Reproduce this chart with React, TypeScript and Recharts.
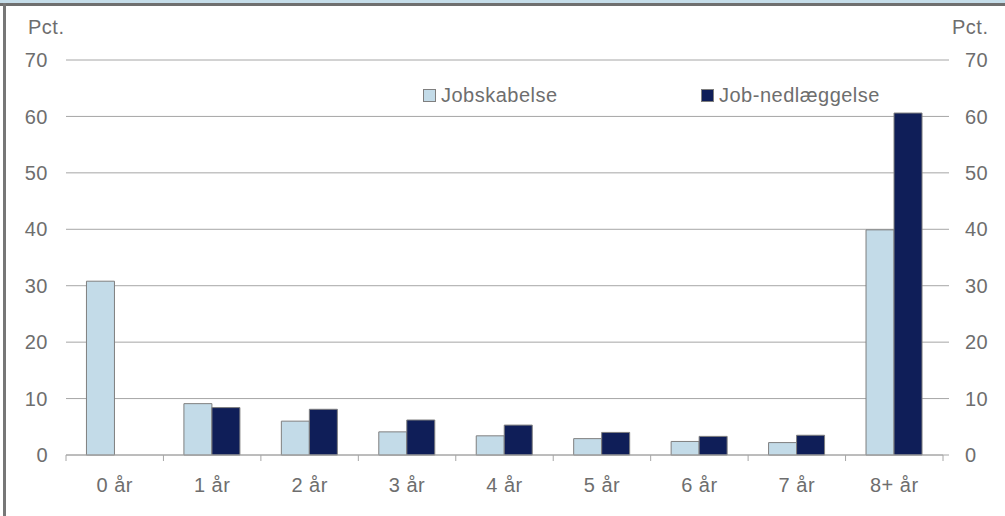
import { Bar, BarChart, CartesianGrid, XAxis, YAxis } from 'recharts'

const categories = ['0 år', '1 år', '2 år', '3 år', '4 år', '5 år', '6 år', '7 år', '8+ år']
const jobskabelse = [30.8, 9.1, 6.0, 4.1, 3.4, 2.9, 2.4, 2.2, 39.9]
const jobnedlaeggelse = [0, 8.4, 8.1, 6.2, 5.3, 4.0, 3.3, 3.5, 60.6]
const seriesNames = ['Jobskabelse', 'Job-nedlæggelse']
const yTicks = [0, 10, 20, 30, 40, 50, 60, 70]
const unit = 'Pct.'

const data = categories.map((cat, i) => ({
  cat,
  skab: jobskabelse[i],
  ned: jobnedlaeggelse[i],
}))

const W = 1005
const H = 516
const M = { top: 60, right: 0, bottom: 0, left: 0 }
const LEFT_W = 66
const RIGHT_W = 62
const PLOT_W = W - LEFT_W - RIGHT_W
const BAND = PLOT_W / categories.length

const LIGHT = '#c3dbe8'
const DARK = '#0f1e58'
const EDGE = '#7f7f7f'
const GRID = '#a6a6a6'
const TEXT = '#6e6e6e'
const FONT = '"Liberation Sans", Arial, sans-serif'
const FS = 20
const LS = 0.5

function CatTick(props: any) {
  const { x, y, payload, index } = props
  const last = index === categories.length - 1
  return (
    <g>
      <line x1={x - BAND / 2} x2={x - BAND / 2} y1={y} y2={y + 6} stroke={GRID} />
      {last && <line x1={x + BAND / 2} x2={x + BAND / 2} y1={y} y2={y + 6} stroke={GRID} />}
      <text x={x} y={y + 37} textAnchor="middle" fill={TEXT} fontSize={FS} fontFamily={FONT} letterSpacing={LS}>
        {payload.value}
      </text>
    </g>
  )
}

export default function App() {
  const tickStyle = { fill: TEXT, fontSize: FS, fontFamily: FONT, letterSpacing: LS }
  const labelStyle = { position: 'absolute' as const, top: 16, color: TEXT, fontSize: FS, fontFamily: FONT, letterSpacing: LS }
  return (
    <div style={{ position: 'absolute', left: 0, top: 0, width: W, height: H, background: '#fff' }}>
      <div style={{ position: 'absolute', left: 0, top: 0, width: W, height: 3, background: '#c5dde9' }} />
      <div style={{ position: 'absolute', left: 0, top: 3, width: W, height: 3, background: '#6f6f6f' }} />
      <div style={{ position: 'absolute', left: 3, top: 3, width: 3, height: H - 3, background: '#777' }} />

      <BarChart width={W} height={H} data={data} margin={M} barCategoryGap="21%" barGap={0}>
        <CartesianGrid vertical={false} stroke={GRID} yAxisId="l" />
        <XAxis
          dataKey="cat"
          height={61}
          axisLine={{ stroke: GRID }}
          tickLine={false}
          tickSize={0}
          tickMargin={0}
          interval={0}
          tick={<CatTick />}
        />
        <YAxis
          yAxisId="l"
          width={LEFT_W}
          domain={[0, 70]}
          ticks={yTicks}
          axisLine={false}
          tickLine={false}
          tickMargin={12}
          tick={tickStyle}
        />
        <YAxis
          yAxisId="r"
          orientation="right"
          width={RIGHT_W}
          domain={[0, 70]}
          ticks={yTicks}
          axisLine={false}
          tickLine={{ stroke: GRID }}
          tickMargin={16}
          tick={tickStyle}
        />
        <Bar yAxisId="l" dataKey="skab" name={seriesNames[0]} fill={LIGHT} stroke={EDGE} strokeWidth={1} isAnimationActive={false} />
        <Bar yAxisId="r" dataKey="ned" name={seriesNames[1]} fill={DARK} stroke={EDGE} strokeWidth={1} isAnimationActive={false} />
      </BarChart>

      <span style={{ ...labelStyle, left: 28 }}>{unit}</span>
      <span style={{ ...labelStyle, left: 952 }}>{unit}</span>

      {seriesNames.map((name, i) => (
        <div
          key={name}
          style={{ position: 'absolute', left: i === 0 ? 423 : 701, top: 84, display: 'flex', alignItems: 'center' }}
        >
          <div style={{ width: 11, height: 11, background: i === 0 ? LIGHT : DARK, border: `1px solid ${EDGE}`, marginRight: 5 }} />
          <span style={{ color: TEXT, fontSize: FS, fontFamily: FONT, letterSpacing: LS }}>{name}</span>
        </div>
      ))}
    </div>
  )
}
